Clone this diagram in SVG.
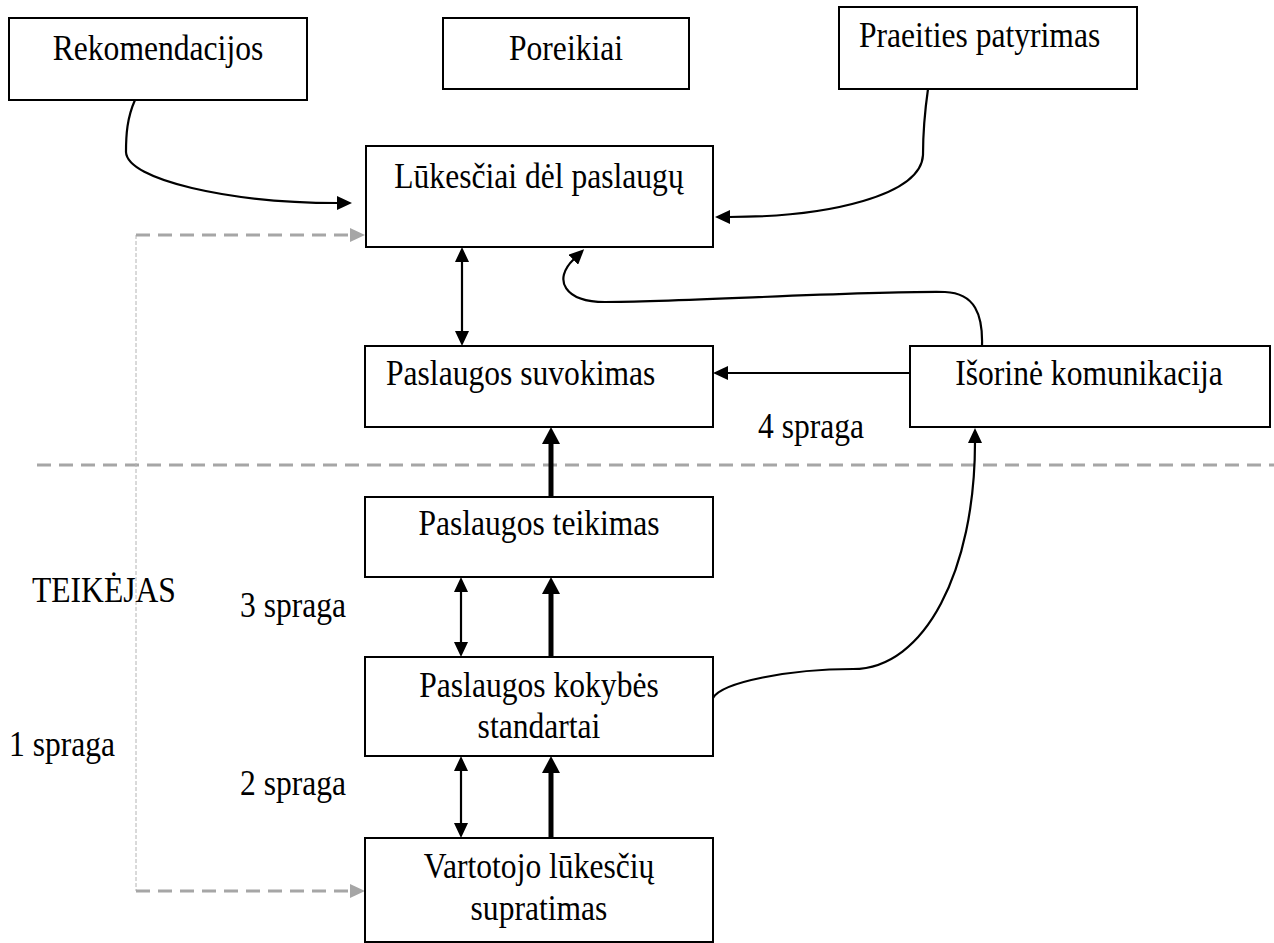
<svg xmlns="http://www.w3.org/2000/svg" width="1274" height="943" viewBox="0 0 1274 943">
<style>
.box{fill:#fff;stroke:#000;stroke-width:2}
.t{font-family:"Liberation Serif","Times New Roman",serif;font-size:31.6px;fill:#000}
.m{text-anchor:middle}
.c{fill:none;stroke:#000;stroke-width:2.2}
.thick{fill:none;stroke:#000;stroke-width:5}
.g{fill:none;stroke:#a6a6a6;stroke-width:3;stroke-dasharray:14 8}
.gv{fill:none;stroke:#b4b4b4;stroke-width:1;stroke-dasharray:4 2}
</style>
<defs>
<marker id="a" viewBox="0 0 15 14" markerWidth="15" markerHeight="14" refX="1" refY="7" orient="auto-start-reverse" markerUnits="userSpaceOnUse"><path d="M0,0 L15,7 L0,14 z" fill="#000"/></marker>
<marker id="ak" viewBox="0 0 17 18" markerWidth="17" markerHeight="18" refX="1" refY="9" orient="auto" markerUnits="userSpaceOnUse"><path d="M0,0 L17,9 L0,18 z" fill="#000"/></marker>
<marker id="ag" viewBox="0 0 15 14" markerWidth="15" markerHeight="14" refX="1" refY="7" orient="auto" markerUnits="userSpaceOnUse"><path d="M0,0 L15,7 L0,14 z" fill="#a6a6a6"/></marker>
</defs>
<rect width="1274" height="943" fill="#fff"/>

<g id="connectors">
<path class="g" d="M37,465 L1274,465" stroke-width="2"/>
<path class="gv" d="M136,235 L136,891"/>
<path class="g" d="M136,235 L351,235" marker-end="url(#ag)"/>
<path class="g" d="M136,891 L351,891" marker-end="url(#ag)"/>
<path class="c" d="M135,100 C127,118 126,135 126,152 C127,180 230,203 338,203" marker-end="url(#a)"/>
<path class="c" d="M928,89 C925,110 923,130 923,155 C921,195 830,217 729,217" marker-end="url(#a)"/>
<path class="c" d="M462,261 L462,332" marker-start="url(#a)" marker-end="url(#a)"/>
<path class="c" d="M910,373 L727,373" marker-end="url(#a)"/>
<path class="c" d="M982,346 C983,315 975,293 945,292 C860,291 680,302 605,302 C565,302 552,280 574,259" marker-end="url(#a)"/>
<path class="c" d="M713,698 C722,682 790,669 853,669 C925,669 975,570 975,442" marker-end="url(#a)"/>
<path class="thick" d="M551,497 L551,443" marker-end="url(#ak)"/>
<path class="thick" d="M551,657 L551,593" marker-end="url(#ak)"/>
<path class="thick" d="M551,838 L551,772" marker-end="url(#ak)"/>
<path class="c" d="M461,591 L461,643" marker-start="url(#a)" marker-end="url(#a)"/>
<path class="c" d="M461,770 L461,824" marker-start="url(#a)" marker-end="url(#a)"/>
</g>

<g id="rekomendacijos">
<rect class="box" x="9" y="18" width="298" height="82"/>
<text class="t m" transform="translate(158,60) scale(1,1.12)">Rekomendacijos</text>
</g>
<g id="poreikiai">
<rect class="box" x="443" y="18" width="246" height="71"/>
<text class="t m" transform="translate(566,60) scale(1,1.12)">Poreikiai</text>
</g>
<g id="praeities">
<rect class="box" x="839" y="7" width="298" height="82"/>
<text class="t" transform="translate(859,47) scale(1,1.12)">Praeities patyrimas</text>
</g>
<g id="lukesciai">
<rect class="box" x="366" y="146" width="347" height="101"/>
<text class="t m" transform="translate(539,188) scale(1,1.12)">Lūkesčiai dėl paslaugų</text>
</g>
<g id="suvokimas">
<rect class="box" x="365" y="346" width="348" height="81"/>
<text class="t" transform="translate(386,385) scale(1,1.12)">Paslaugos suvokimas</text>
</g>
<g id="isorine">
<rect class="box" x="910" y="346" width="360" height="81"/>
<text class="t m" transform="translate(1089,385) scale(1,1.12)">Išorinė komunikacija</text>
</g>
<g id="teikimas">
<rect class="box" x="365" y="497" width="348" height="80"/>
<text class="t m" transform="translate(539,535) scale(1,1.12)">Paslaugos teikimas</text>
</g>
<g id="standartai">
<rect class="box" x="365" y="657" width="348" height="99"/>
<text class="t m" transform="translate(539,697) scale(1,1.12)">Paslaugos kokybės</text>
<text class="t m" transform="translate(539,738) scale(1,1.12)">standartai</text>
</g>
<g id="supratimas">
<rect class="box" x="365" y="838" width="348" height="104"/>
<text class="t m" transform="translate(539,878) scale(1,1.12)">Vartotojo lūkesčių</text>
<text class="t m" transform="translate(539,920) scale(1,1.12)">supratimas</text>
</g>

<g id="labels">
<text class="t" transform="translate(758,438) scale(1,1.12)">4 spraga</text>
<text class="t" transform="translate(32,602) scale(1,1.12)">TEIKĖJAS</text>
<text class="t" transform="translate(240,617) scale(1,1.12)">3 spraga</text>
<text class="t" transform="translate(9,756) scale(1,1.12)">1 spraga</text>
<text class="t" transform="translate(240,795) scale(1,1.12)">2 spraga</text>
</g>
</svg>
